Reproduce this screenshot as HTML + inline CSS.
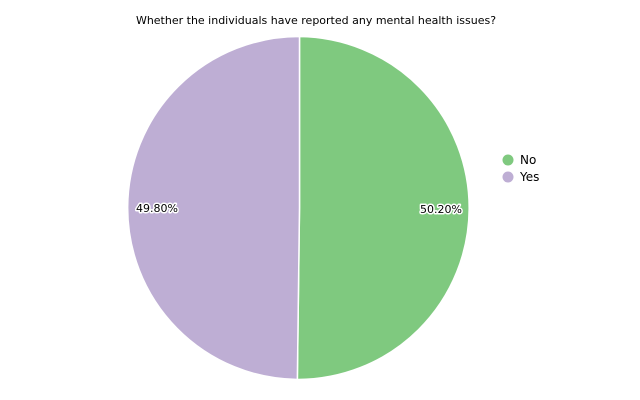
<!DOCTYPE html>
<html><head><meta charset="utf-8"><style>
html,body{margin:0;padding:0;background:#fff;}
svg{display:block;font-family:"DejaVu Sans","Liberation Sans",sans-serif;}
</style></head><body>
<svg width="640" height="400" viewBox="0 0 640 400">
<rect width="640" height="400" fill="#fff"/>
<text x="316" y="24" font-size="11" text-anchor="middle" fill="#000">Whether the individuals have reported any mental health issues?</text>
<path d="M299.5,208 L299.5,36.5 A171.5,171.5 0 0 1 297.35,379.49 Z" fill="#7fc97f" stroke="#fff" stroke-width="1.5"/>
<path d="M299.5,208 L297.35,379.49 A171.5,171.5 0 0 1 299.5,36.5 Z" fill="#beaed4" stroke="#fff" stroke-width="1.5"/>
<g font-size="11" text-anchor="middle">
<text x="441" y="213" stroke="#fff" stroke-width="3" stroke-linejoin="round" fill="#fff">50.20%</text>
<text x="441" y="213" fill="#000">50.20%</text>
<text x="157" y="212" stroke="#fff" stroke-width="3" stroke-linejoin="round" fill="#fff">49.80%</text>
<text x="157" y="212" fill="#000">49.80%</text>
</g>
<circle cx="508" cy="160" r="5.5" fill="#7fc97f"/>
<circle cx="508" cy="177" r="5.5" fill="#beaed4"/>
<text x="520" y="164" font-size="12" fill="#000">No</text>
<text x="520" y="181" font-size="12" fill="#000">Yes</text>
</svg>
</body></html>
